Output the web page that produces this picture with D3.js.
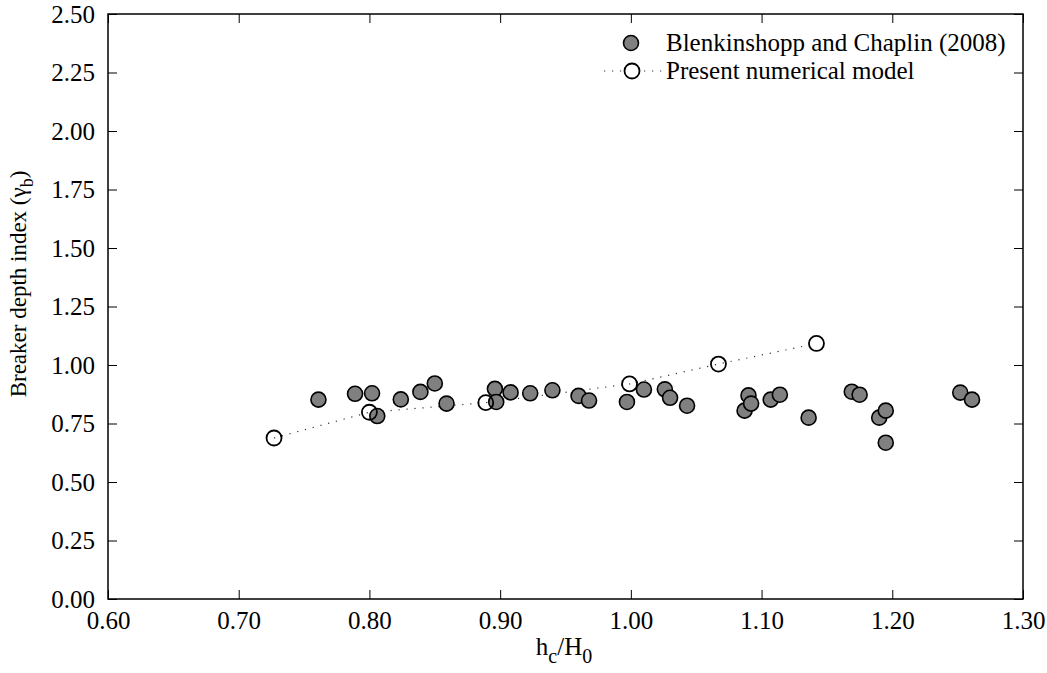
<!DOCTYPE html>
<html>
<head>
<meta charset="utf-8">
<script src="https://cdn.jsdelivr.net/npm/d3@7"></script>
<style>
  body { margin: 0; background: #fff; }
</style>
</head>
<body>
<svg id="the-svg" width="1047" height="673"></svg>
<script>
// Blenkinshopp and Chaplin (2008) measurements
const EXP_X = [0.761, 0.789, 0.802, 0.806, 0.824, 0.839, 0.850, 0.859, 0.896, 0.897,
  0.908, 0.923, 0.940, 0.960, 0.968, 0.997, 1.010, 1.026, 1.030, 1.043,
  1.087, 1.090, 1.092, 1.107, 1.114, 1.136, 1.169, 1.175, 1.190, 1.195,
  1.195, 1.252, 1.261];
const EXP_Y = [0.852, 0.877, 0.879, 0.782, 0.853, 0.885, 0.921, 0.835, 0.898, 0.842,
  0.883, 0.879, 0.892, 0.868, 0.848, 0.842, 0.895, 0.896, 0.860, 0.826,
  0.805, 0.870, 0.835, 0.852, 0.873, 0.775, 0.886, 0.873, 0.775, 0.805,
  0.668, 0.882, 0.852];

// present numerical model
const MODEL_X = [0.727, 0.800, 0.889, 0.999, 1.067, 1.142];
const MODEL_Y = [0.688, 0.798, 0.839, 0.919, 1.004, 1.092];

const X_TICKS = [0.6, 0.7, 0.8, 0.9, 1.0, 1.1, 1.2, 1.3];
const Y_TICKS = [0, 0.25, 0.5, 0.75, 1.0, 1.25, 1.5, 1.75, 2.0, 2.25, 2.5];

const LEGEND_LABELS = ['Blenkinshopp and Chaplin (2008)', 'Present numerical model'];

const FONT = '"Liberation Serif", "Times New Roman", serif';
const FS = 25;
const SUB_FS = 20;
const TICK = 9;

const margin = { left: 108, top: 14, right: 24, bottom: 74 };
const W = 1047, H = 673;
const pw = W - margin.left - margin.right;
const ph = H - margin.top - margin.bottom;

const svg = d3.select('svg');
const g = svg.append('g').attr('transform', `translate(${margin.left},${margin.top})`);

const x = d3.scaleLinear().domain([0.6, 1.3]).range([0, pw]);
const y = d3.scaleLinear().domain([0, 2.5]).range([ph, 0]);

// axes: inward ticks on all four sides
function styleAxis(sel) {
  sel.attr('font-family', null).attr('font-size', null);
  sel.select('.domain').remove();
  sel.selectAll('.tick line').attr('stroke', '#000').attr('stroke-width', 1);
  sel.selectAll('.tick text')
    .style('font-family', FONT)
    .style('font-size', FS + 'px')
    .attr('fill', '#000');
}

g.append('g')
  .attr('transform', `translate(0,${ph})`)
  .call(d3.axisBottom(x).tickValues(X_TICKS).tickFormat(d3.format('.2f')).tickSizeInner(-TICK).tickPadding(TICK + 3))
  .call(styleAxis);

g.append('g')
  .call(d3.axisTop(x).tickValues(X_TICKS).tickFormat('').tickSizeInner(-TICK))
  .call(styleAxis);

g.append('g')
  .call(d3.axisLeft(y).tickValues(Y_TICKS).tickFormat(d3.format('.2f')).tickSizeInner(-TICK).tickPadding(TICK + 4))
  .call(styleAxis);

g.append('g')
  .attr('transform', `translate(${pw},0)`)
  .call(d3.axisRight(y).tickValues(Y_TICKS).tickFormat('').tickSizeInner(-TICK))
  .call(styleAxis);

g.append('rect')
  .attr('width', pw).attr('height', ph)
  .attr('fill', 'none').attr('stroke', '#000').attr('stroke-width', 1.5);

// model line (dotted)
const modelPts = MODEL_X.map((v, i) => [v, MODEL_Y[i]]);
g.append('path')
  .datum(modelPts)
  .attr('fill', 'none')
  .attr('stroke', '#333')
  .attr('stroke-width', 1.2)
  .attr('stroke-dasharray', '1.2,6.8')
  .attr('d', d3.line().x(d => x(d[0])).y(d => y(d[1])));

// experimental points
const expPts = EXP_X.map((v, i) => [v, EXP_Y[i]]);
g.append('g').selectAll('circle')
  .data(expPts)
  .enter()
  .append('circle')
    .attr('cx', d => x(d[0]))
    .attr('cy', d => y(d[1]))
    .attr('r', 7.5)
    .attr('fill', '#808080')
    .attr('stroke', '#000')
    .attr('stroke-width', 1.6);

g.append('g').selectAll('circle')
  .data(modelPts)
  .enter()
  .append('circle')
    .attr('cx', d => x(d[0]))
    .attr('cy', d => y(d[1]))
    .attr('r', 7.5)
    .attr('fill', 'none')
    .attr('stroke', '#000')
    .attr('stroke-width', 1.8);

// legend
const lg = svg.append('g');
lg.append('circle').attr('cx', 631).attr('cy', 43).attr('r', 7.5)
  .attr('fill', '#808080').attr('stroke', '#000').attr('stroke-width', 1.6);
lg.append('line').attr('x1', 604).attr('x2', 662).attr('y1', 71).attr('y2', 71)
  .attr('stroke', '#333').attr('stroke-width', 1.2).attr('stroke-dasharray', '1.2,6.8');
lg.append('circle').attr('cx', 632).attr('cy', 71).attr('r', 7.5)
  .attr('fill', '#fff').attr('stroke', '#000').attr('stroke-width', 1.8);
lg.selectAll('text.leg')
  .data(LEGEND_LABELS)
  .enter()
  .append('text')
    .attr('class', 'leg')
    .attr('x', 666)
    .attr('y', (d, i) => 51 + i * 28)
    .style('font-family', FONT)
    .style('font-size', FS + 'px')
    .text(d => d);

// axis titles
const xt = svg.append('text')
  .attr('x', 564).attr('y', 655)
  .attr('text-anchor', 'middle')
  .style('font-family', FONT)
  .style('font-size', FS + 'px');
xt.append('tspan').text('h');
xt.append('tspan').attr('dy', 8).style('font-size', SUB_FS + 'px').text('c');
xt.append('tspan').attr('dy', -8).text('/H');
xt.append('tspan').attr('dy', 8).style('font-size', SUB_FS + 'px').text('0');

const yt = svg.append('text')
  .attr('transform', 'translate(26,284) rotate(-90)')
  .attr('text-anchor', 'middle')
  .style('font-family', FONT)
  .style('font-size', '23px');
yt.append('tspan').text('Breaker depth index (γ');
yt.append('tspan').attr('dy', 7).style('font-size', '18px').text('b');
yt.append('tspan').attr('dy', -7).text(')');
</script>
</body>
</html>
